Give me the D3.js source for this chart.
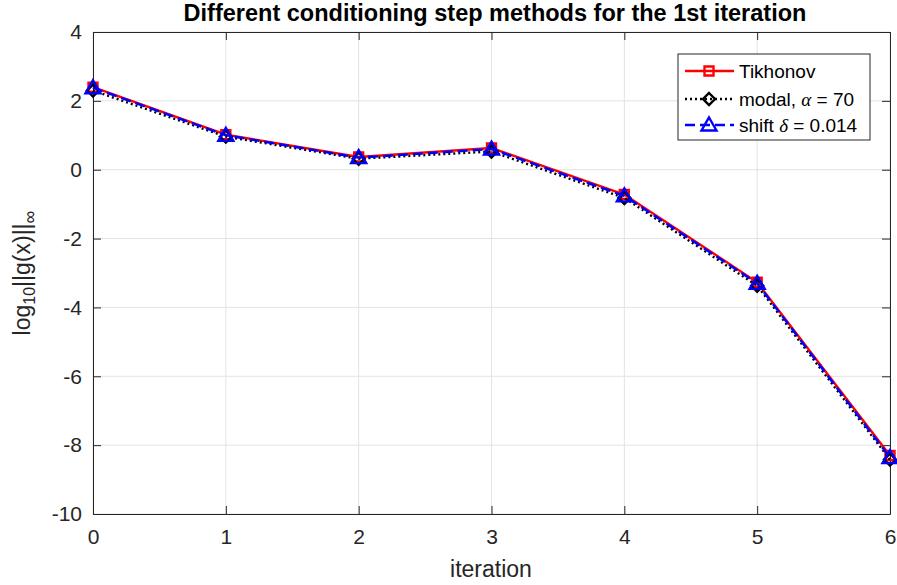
<!DOCTYPE html>
<html><head><meta charset="utf-8">
<script src="https://cdn.jsdelivr.net/npm/d3@7"></script>
<style>body{margin:0;background:#fff}svg{display:block;font-family:"Liberation Sans",Arial,sans-serif}</style>
</head><body><svg id="c" width="897" height="585"></svg>
<script>
const iterations = [0, 1, 2, 3, 4, 5, 6];
const tikhonov = [2.40, 1.02, 0.37, 0.63, -0.72, -3.27, -8.30];
const modal    = [2.30, 0.96, 0.32, 0.53, -0.82, -3.37, -8.42];
const shift    = [2.38, 1.00, 0.35, 0.60, -0.76, -3.30, -8.36];
const xTicks = [0, 1, 2, 3, 4, 5, 6];
const yTicks = [4, 2, 0, -2, -4, -6, -8, -10];

const svg = d3.select("#c");
const L = 93, R = 890, T = 32, B = 514;
const x = d3.scaleLinear().domain([0, 6]).range([L, R]);
const y = d3.scaleLinear().domain([-10, 4]).range([B, T]);

// grid
svg.append("g").selectAll("line").data(xTicks).join("line")
  .attr("x1", d => x(d)).attr("x2", d => x(d)).attr("y1", T).attr("y2", B)
  .attr("stroke", "#e3e3e3").attr("stroke-width", 1);
svg.append("g").selectAll("line").data(yTicks).join("line")
  .attr("y1", d => y(d)).attr("y2", d => y(d)).attr("x1", L).attr("x2", R)
  .attr("stroke", "#e3e3e3").attr("stroke-width", 1);

// axes
svg.append("g").attr("transform", `translate(0,${B})`)
  .call(d3.axisBottom(x).tickValues(xTicks).tickSizeInner(-8).tickSizeOuter(0).tickPadding(15).tickFormat(d3.format("d")));
svg.append("g").attr("transform", `translate(${L},0)`)
  .call(d3.axisLeft(y).tickValues(yTicks).tickSizeInner(-8).tickSizeOuter(0).tickPadding(11).tickFormat(d => d < 0 ? "-" + Math.abs(d) : d));
svg.append("g").attr("transform", `translate(0,${T})`)
  .call(d3.axisTop(x).tickValues(xTicks).tickSizeInner(-8).tickSizeOuter(0).tickFormat(""));
svg.append("g").attr("transform", `translate(${R},0)`)
  .call(d3.axisRight(y).tickValues(yTicks).tickSizeInner(-8).tickSizeOuter(0).tickFormat(""));
svg.selectAll(".domain, .tick line").attr("stroke", "#262626").attr("stroke-width", 1);
svg.selectAll(".tick text").attr("fill", "#262626").style("font-size", "21px");

// series
const line = d3.line().x((d, i) => x(iterations[i])).y(d => y(d));
function series(data, color, dash, marker) {
  svg.append("path").datum(data).attr("d", line).attr("fill", "none")
    .attr("stroke", color).attr("stroke-width", 2.4).attr("stroke-dasharray", dash);
  svg.append("g").selectAll("path").data(data).join("path")
    .attr("transform", (d, i) => `translate(${x(iterations[i])},${y(d)})`)
    .attr("d", marker).attr("fill", "none").attr("stroke", color).attr("stroke-width", 2.4);
}
const sq = "M-4.5,-4.5H4.5V4.5H-4.5Z";
const dia = "M0,-6L6,0L0,6L-6,0Z";
const tri = "M0,-7.5L7.5,5.5H-7.5Z";
series(tikhonov, "#ff0000", null, sq);
series(modal, "#000000", "2,3", dia);
series(shift, "#0000ff", "10,5", tri);

// title & labels
svg.append("text").attr("x", 495).attr("y", 21).attr("text-anchor", "middle")
  .style("font-size", "23.5px").style("font-weight", "bold").attr("fill", "#000")
  .text("Different conditioning step methods for the 1st iteration");
svg.append("text").attr("x", 491).attr("y", 577).attr("text-anchor", "middle")
  .style("font-size", "23px").attr("fill", "#262626").text("iteration");
const yl = svg.append("text").attr("transform", "translate(30,273) rotate(-90)")
  .attr("text-anchor", "middle").style("font-size", "23px").attr("fill", "#262626");
yl.append("tspan").text("log");
yl.append("tspan").attr("baseline-shift", "-30%").style("font-size", "16px").text("10");
yl.append("tspan").text("||g(x)||");
yl.append("tspan").attr("baseline-shift", "-35%").style("font-size", "18px").text("∞");

// legend
const legendNames = ["Tikhonov", "modal, ", "shift "];
const lg = svg.append("g");
lg.append("rect").attr("x", 678).attr("y", 54).attr("width", 192).attr("height", 86)
  .attr("fill", "#fff").attr("stroke", "#262626").attr("stroke-width", 1);
const legendItems = [
  {c: "#ff0000", dash: null, m: sq},
  {c: "#000000", dash: "2,3", m: dia},
  {c: "#0000ff", dash: "10,5", m: tri}
];
const rowsY = [71, 99, 125];
legendItems.forEach((it, i) => {
  lg.append("line").attr("x1", 685).attr("x2", 734).attr("y1", rowsY[i]).attr("y2", rowsY[i])
    .attr("stroke", it.c).attr("stroke-width", 2.4).attr("stroke-dasharray", it.dash);
  lg.append("path").attr("d", it.m).attr("transform", `translate(709,${rowsY[i]})`)
    .attr("fill", "none").attr("stroke", it.c).attr("stroke-width", 2.4);
});
const fs = "19px";
lg.append("text").attr("x", 739).attr("y", rowsY[0] + 7).style("font-size", fs).attr("fill", "#000").text(legendNames[0]);
const t1 = lg.append("text").attr("x", 739).attr("y", rowsY[1] + 7).style("font-size", fs).attr("fill", "#000");
t1.append("tspan").text(legendNames[1]);
t1.append("tspan").style("font-family", "'Liberation Serif',serif").style("font-style", "italic").text("α");
t1.append("tspan").text(" = 70");
const t2 = lg.append("text").attr("x", 739).attr("y", rowsY[2] + 7).style("font-size", fs).attr("fill", "#000");
t2.append("tspan").text(legendNames[2]);
t2.append("tspan").style("font-family", "'Liberation Serif',serif").style("font-style", "italic").text("δ");
t2.append("tspan").text(" = 0.014");
</script></body></html>
